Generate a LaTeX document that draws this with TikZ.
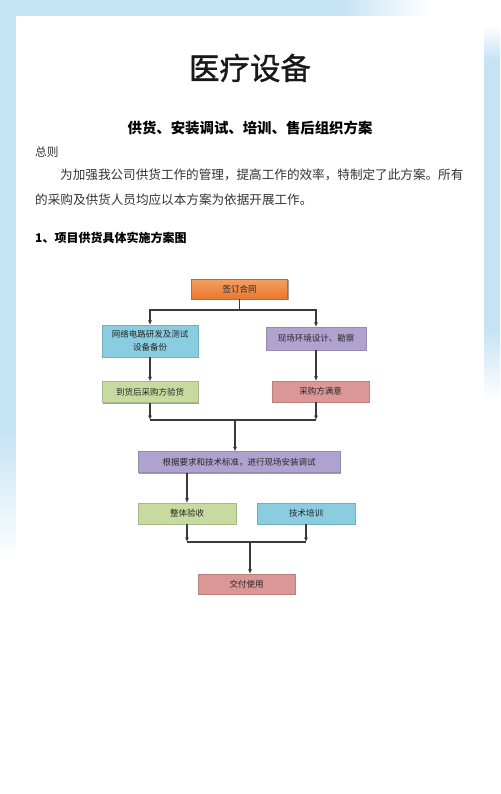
\documentclass[tikz,border=0pt]{standalone}
\usepackage{fontspec}
\newfontfamily\cjk{Noto Sans CJK SC}
\newfontfamily\cjktitle[FakeBold=1.2]{Noto Sans CJK SC}
\usetikzlibrary{arrows.meta,shadows}
\definecolor{bgblue}{HTML}{C6E3F4}
\definecolor{cOrange}{HTML}{E8782E}
\definecolor{cOrangeT}{HTML}{F4A062}
\definecolor{cCyan}{HTML}{8ACDE0}
\definecolor{cPurple}{HTML}{B0A2CE}
\definecolor{cGreen}{HTML}{C7DA9F}
\definecolor{cPink}{HTML}{DB9796}
\definecolor{lineC}{HTML}{3A3A3A}
\tikzset{
  fbox/.style={draw=#1!85!black, fill=#1, line width=0.3pt, inner sep=0pt,
    font=\cjk\fontsize{8.5}{13}\selectfont, text=black!85, align=center,
    drop shadow={shadow xshift=1pt,shadow yshift=-1.4pt,fill=black!50,opacity=0.75}},
  conn/.style={draw=lineC, line width=1.1pt},
  arr/.style={conn, -{Latex[length=4.5pt,width=4.2pt]}},
  txt/.style={inner sep=0pt, anchor=west, text=black!80}
}
\begin{document}
\begin{tikzpicture}[x=1pt,y=-1pt]
\useasboundingbox (0,0) rectangle (500,794);
% background
\fill[white] (0,0) rectangle (500,794);
\fill[bgblue] (0,0) rectangle (340,16);
\shade[left color=bgblue,right color=white] (340,0) rectangle (430,16);
\fill[bgblue] (0,0) rectangle (16,430);
\shade[top color=bgblue,bottom color=white] (0,430) rectangle (16,560);
\shade[top color=white,bottom color=bgblue] (484,25) rectangle (500,60);
\fill[bgblue] (484,60) rectangle (500,330);
\shade[top color=bgblue,bottom color=white] (484,330) rectangle (500,400);
\fill[white] (16,16) rectangle (484,794);

% texts
\node[inner sep=0pt, font=\cjktitle\fontsize{30.5}{34}\selectfont, text=black!90] (title) at (250,68) {医疗设备};
\node[inner sep=0pt, font=\cjk\bfseries\fontsize{14.4}{16}\selectfont] (sub) at (250,128) {供货、安装调试、培训、售后组织方案};
\node[txt, font=\cjk\fontsize{11.7}{14}\selectfont] (zz) at (35,152) {总则};
\node[txt, font=\cjk\fontsize{12.6}{14}\selectfont] (p1) at (60,175) {为加强我公司供货工作的管理，提高工作的效率，特制定了此方案。所有};
\node[txt, font=\cjk\fontsize{12.6}{14}\selectfont] (p2) at (35,200) {的采购及供货人员均应以本方案为依据开展工作。};
\node[txt, font=\cjk\bfseries\fontsize{12}{14}\selectfont, text=black] (h1) at (35,238) {1、项目供货具体实施方案图};

% flowchart boxes
\node[fbox=cOrange, top color=cOrangeT, bottom color=cOrange, minimum width=96pt, minimum height=20pt] (sign) at (239.5,289) {签订合同};
\node[fbox=cCyan, minimum width=96pt, minimum height=32pt] (net) at (150,341) {网络电路研发及测试\\设备备份};
\node[fbox=cPurple, minimum width=100pt, minimum height=23pt] (site) at (316,338.5) {现场环境设计、勘察};
\node[fbox=cGreen, minimum width=96pt, minimum height=21pt] (arrive) at (150,392) {到货后采购方验货};
\node[fbox=cPink, minimum width=97pt, minimum height=21pt] (satis) at (320.5,391.5) {采购方满意};
\node[fbox=cPurple, minimum width=202pt, minimum height=21pt] (inst) at (239,462) {根据要求和技术标准，进行现场安装调试};
\node[fbox=cGreen, minimum width=98pt, minimum height=21pt] (accept) at (187,513.5) {整体验收};
\node[fbox=cCyan, minimum width=98pt, minimum height=21pt] (train) at (306,513.5) {技术培训};
\node[fbox=cPink, minimum width=97pt, minimum height=20pt] (deliver) at (246.5,584) {交付使用};

% junctions
\coordinate (j1) at (239.5,310);
\coordinate (j2) at (235,420);
\coordinate (j3) at (250,542);

% connectors
\draw[conn] (sign) -- (j1);
\draw[arr] (j1) -| (net.north);
\draw[arr] (j1) -| (site.north);
\draw[arr] (net) -- (arrive);
\draw[arr] (site.south) -- (site.south |- satis.north);
\draw[arr] (arrive) -- (arrive |- j2);
\draw[arr] (site.south |- satis.south) -- (site.south |- j2);
\draw[conn] (arrive |- j2) -- (site.south |- j2);
\draw[arr] (j2) -- (j2 |- inst.north);
\draw[arr] (inst.south -| accept.north) -- (accept.north);
\draw[arr] (accept) -- (accept |- j3);
\draw[arr] (train) -- (train |- j3);
\draw[conn] (accept |- j3) -- (train |- j3);
\draw[arr] (j3) -- (j3 |- deliver.north);
\end{tikzpicture}
\end{document}
